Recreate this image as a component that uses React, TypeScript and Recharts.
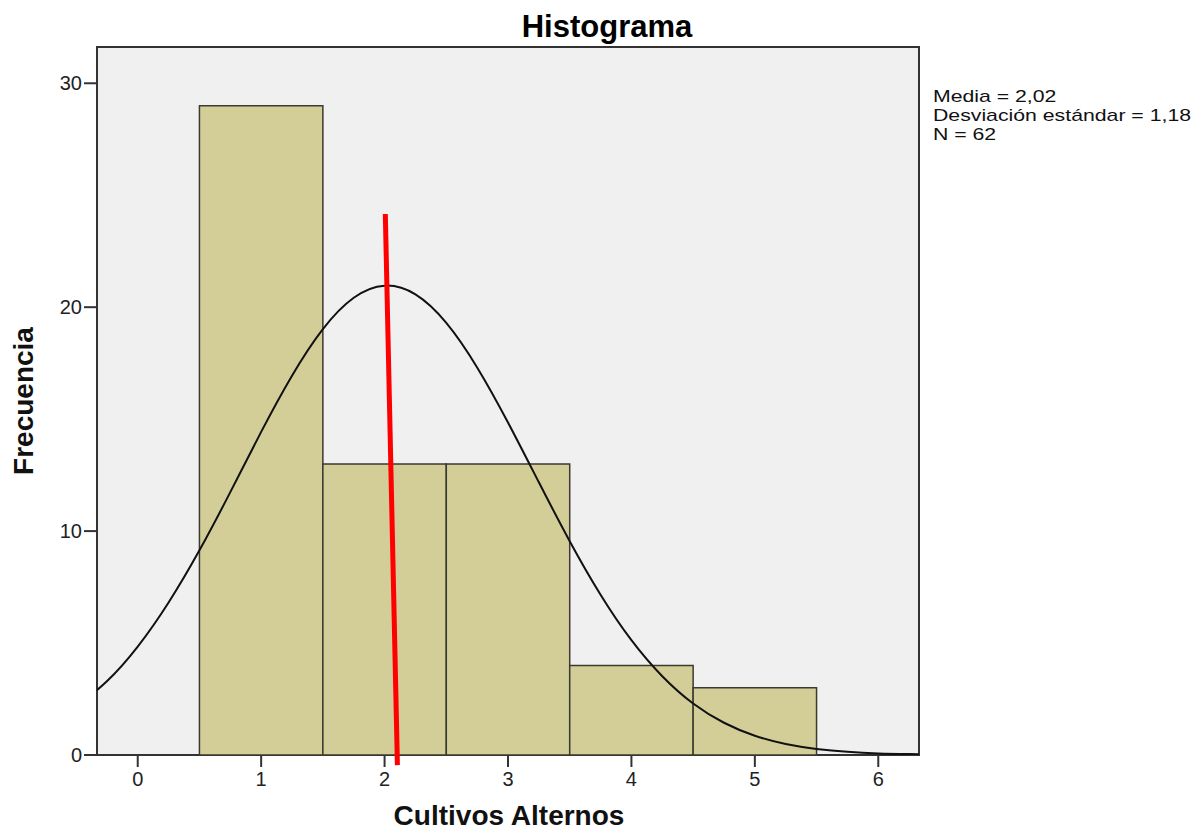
import { ComposedChart, Line, XAxis, YAxis, ReferenceArea, ReferenceLine } from 'recharts';

// histogram bins (centre of each bin) and frequencies
const binCenters = [1, 2, 3, 4, 5];
const counts = [29, 13, 13, 4, 3];

// normal curve (clipped to the plot box)
const curveX = [-0.5, -0.25, 0, 0.25, 0.5, 0.75, 1, 1.25, 1.5, 1.75, 2, 2.25, 2.5, 2.75, 3, 3.25, 3.5, 3.75, 4, 4.25, 4.5, 4.75, 5, 5.25, 5.5, 5.75, 6, 6.25, 6.5];
const curveY = [2.14, 3.29, 4.84, 6.81, 9.14, 11.74, 14.43, 16.94, 19.02, 20.42, 20.96, 20.57, 19.3, 17.31, 14.85, 12.18, 9.55, 7.16, 5.13, 3.52, 2.3, 1.44, 0.86, 0.49, 0.27, 0.14, 0.07, 0.04, 0.02];

// hand-drawn red mark
const redLine = [{ x: 2.006, y: 24.16 }, { x: 2.104, y: -0.45 }];

const xTicks = [0, 1, 2, 3, 4, 5, 6];
const yTicks = [0, 10, 20, 30];
const xDomain: [number, number] = [-0.33, 6.33];
const yDomain: [number, number] = [0, 31.62];

const statsLines = ['Media = 2,02', 'Desviación estándar = 1,18', 'N = 62'];

const curveData = curveX.map((x, i) => ({ x, curve: curveY[i] }));

const FONT = '"Liberation Sans", Arial, sans-serif';

export default function App() {
  const tickStyle = { fontSize: 20, fill: '#222', fontFamily: FONT };
  return (
    <div style={{ position: 'absolute', left: 0, top: 0, width: 1201, height: 832, background: '#fff' }}>
      <ComposedChart
        width={1201}
        height={832}
        data={curveData}
        margin={{ top: 47, right: 282, left: 37, bottom: 37 }}
      >
        <XAxis
          type="number"
          dataKey="x"
          domain={xDomain}
          ticks={xTicks}
          allowDataOverflow
          axisLine={false}
          tickSize={12}
          tickMargin={5}
          tickLine={{ stroke: '#333', strokeWidth: 2 }}
          tick={tickStyle}
          height={40}
        />
        <YAxis
          type="number"
          domain={yDomain}
          ticks={yTicks}
          allowDataOverflow
          axisLine={false}
          tickSize={13}
          tickMargin={2}
          tickLine={{ stroke: '#333', strokeWidth: 2 }}
          tick={tickStyle}
          width={60}
        />
        <ReferenceArea
          x1={xDomain[0]}
          x2={xDomain[1]}
          y1={yDomain[0]}
          y2={yDomain[1]}
          fill="#f0f0f0"
          fillOpacity={1}
          stroke="#333"
          strokeWidth={2}
        />
        {binCenters.map((c, i) => (
          <ReferenceArea
            key={c}
            x1={c - 0.5}
            x2={c + 0.5}
            y1={0}
            y2={counts[i]}
            fill="#d3ce98"
            fillOpacity={1}
            stroke="#3a3a30"
            strokeWidth={1.5}
          />
        ))}
        <Line
          type="natural"
          dataKey="curve"
          stroke="#111"
          strokeWidth={2}
          dot={false}
          activeDot={false}
          isAnimationActive={false}
        />
        <ReferenceLine segment={redLine} stroke="#ff0000" strokeWidth={5} ifOverflow="visible" />
      </ComposedChart>
      <svg
        width={1201}
        height={832}
        style={{ position: 'absolute', left: 0, top: 0, pointerEvents: 'none' }}
      >
        <text x={607} y={37} textAnchor="middle" fontFamily={FONT} fontWeight="bold" fontSize={31} fill="#000">
          Histograma
        </text>
        <text x={509} y={825} textAnchor="middle" fontFamily={FONT} fontWeight="bold" fontSize={28} fill="#111">
          Cultivos Alternos
        </text>
        <text
          transform="translate(33,401) rotate(-90)"
          textAnchor="middle"
          fontFamily={FONT}
          fontWeight="bold"
          fontSize={28}
          fill="#111"
        >
          Frecuencia
        </text>
        {statsLines.map((s, i) => (
          <text
            key={s}
            transform={`translate(933,${102 + i * 19}) scale(1.25,1)`}
            fontFamily={FONT}
            fontSize={17}
            fill="#111"
          >
            {s}
          </text>
        ))}
      </svg>
    </div>
  );
}
